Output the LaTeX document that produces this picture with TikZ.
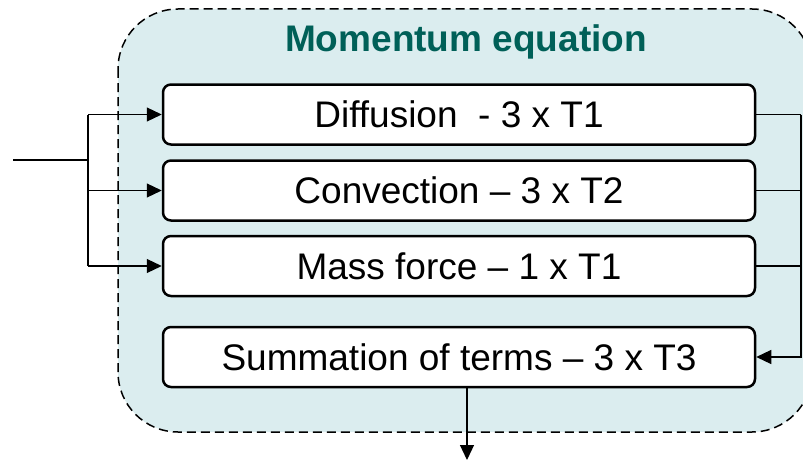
\documentclass[tikz,border=0pt]{standalone}
\usepackage{fontspec}
\setmainfont{Liberation Sans}
\usetikzlibrary{arrows.meta,positioning}
\definecolor{panelfill}{RGB}{219,237,239}
\definecolor{titleteal}{RGB}{0,96,88}
\tikzset{
  termbox/.style = {draw, line width=2.5pt, fill=white, minimum width=592pt,
                    minimum height=60pt, rounded corners=8pt, inner sep=0pt,
                    font=\fontsize{37}{44}\selectfont},
  wire/.style    = {line width=1.2pt},
  arr/.style     = {wire, -{Triangle[length=15pt,width=14pt]}},
  panel/.style   = {draw, fill=panelfill, line width=1.5pt,
                    dash pattern=on 9pt off 5pt, rounded corners=60pt},
}
\begin{document}
\begin{tikzpicture}[x=1pt,y=-1pt]
  \clip (0,0) rectangle (803,460);
  \draw[panel] (118,9) rectangle (812,432);
  \node[font=\fontsize{37}{44}\selectfont\bfseries, text=titleteal] (title) at (466,42) {Momentum equation};
  \node[termbox] (diff) at (459,114.5) {Diffusion\ \ - 3 x T1};
  \node[termbox] (conv) at (459,190.5) {Convection -- 3 x T2};
  \node[termbox] (mass) at (459,266) {Mass force -- 1 x T1};
  \node[termbox] (sum)  at (459,357) {Summation of terms -- 3 x T3};
  % input side
  \coordinate (in) at (13,160);
  \coordinate (split) at (88,160);
  \draw[wire] (in) -- (split);
  \draw[wire] (split |- diff.west) -- (split |- mass.west);
  \draw[arr] (split |- diff.west) -- (diff.west);
  \draw[arr] (split |- conv.west) -- (conv.west);
  \draw[arr] (split |- mass.west) -- (mass.west);
  % collecting the terms
  \coordinate (bus) at (801,114.5);
  \draw[wire] (diff.east) -- (bus);
  \draw[wire] (conv.east) -- (conv.east -| bus);
  \draw[wire] (mass.east) -- (mass.east -| bus);
  \draw[arr] (bus) -- (bus |- sum.east) -- (sum.east);
  % output
  \coordinate (out) at (467,460);
  \draw[arr] (sum.south -| out) -- (out);
\end{tikzpicture}
\end{document}
